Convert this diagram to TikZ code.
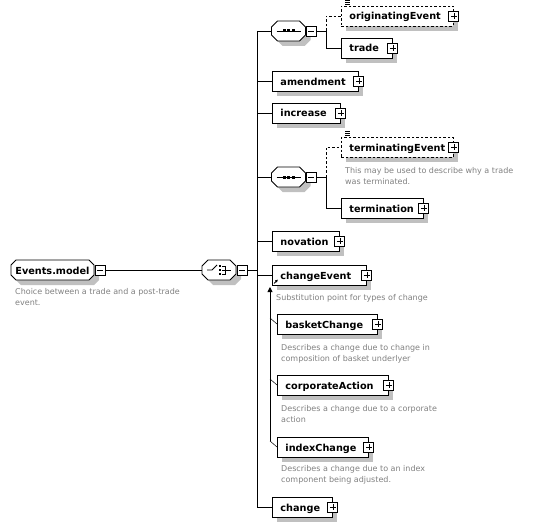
\documentclass[tikz,border=0pt]{standalone}
\usepackage{fontspec}
\setmainfont{DejaVu Sans}
\usetikzlibrary{shadows,arrows.meta}
\definecolor{shadowgray}{RGB}{192,192,192}
\definecolor{descgray}{RGB}{128,128,128}
\tikzset{
  boxshadow/.style={general shadow={fill=shadowgray, draw=none, shadow xshift=5pt, shadow yshift=-5pt}},
  elem/.style={rectangle, draw=black, line width=0.9pt, fill=white, minimum height=20pt,
    inner xsep=8pt, inner ysep=0pt, text height=10pt, text depth=2pt,
    font=\fontsize{9.7}{11}\selectfont\bfseries, anchor=west, align=left, boxshadow},
  optelem/.style={elem, dash pattern=on 2.5pt off 2pt},
  anchorbox/.style={rectangle, draw=none, minimum width=34pt, minimum height=20pt, inner sep=0pt},
  rootbox/.style={rectangle, draw=none, minimum width=83pt, minimum height=20pt, inner sep=0pt,
    text height=10pt, text depth=2pt, font=\fontsize{9.7}{11}\selectfont\bfseries},
  octfill/.style={draw=black, line width=0.9pt, fill=white},
  octshadow/.style={fill=shadowgray, draw=none},
  plusbox/.style={rectangle, draw=black, fill=white, solid, line width=0.9pt, minimum size=10pt, inner sep=0pt,
    path picture={\draw[black, line width=0.8pt] ([xshift=2pt]path picture bounding box.west) -- ([xshift=-2pt]path picture bounding box.east)
      ([yshift=-2pt]path picture bounding box.north) -- ([yshift=2pt]path picture bounding box.south);}},
  minusbox/.style={rectangle, draw=black, fill=white, solid, line width=0.9pt, minimum size=10pt, inner sep=0pt,
    path picture={\draw[black, line width=0.8pt] ([xshift=2pt]path picture bounding box.west) -- ([xshift=-2pt]path picture bounding box.east);}},
  desc/.style={anchor=base west, inner sep=0pt, text=descgray, font=\fontsize{8}{11}\selectfont},
  conn/.style={draw=black, line width=0.9pt},
  optconn/.style={conn, dash pattern=on 2.5pt off 2pt},
  tick/.style={draw=black, line width=0.5pt}
}
% octagon outline centred on the origin, half width #1, half height #2, bevel #3
\newcommand\octo[3]{(-#1+#3,-#2) -- (#1-#3,-#2) -- (#1,-#2+#3) -- (#1,#2-#3) -- (#1-#3,#2) -- (-#1+#3,#2) -- (-#1,#2-#3) -- (-#1,-#2+#3) -- cycle}
\newcommand\compositor[1]{%
  \begin{scope}[shift={(#1.center)}]
    \fill[octshadow] [shift={(5,5)}] \octo{17}{10}{6};
    \draw[octfill] \octo{17}{10}{6};
  \end{scope}}
\begin{document}
\begin{tikzpicture}[x=1pt,y=-1pt]
\useasboundingbox (0,0) rectangle (533,527);

% root
\node[rootbox] (root) at (52.5,270) {};
\begin{scope}[shift={(root.center)}]
  \fill[octshadow] [shift={(5,5)}] \octo{41.5}{10}{5};
  \draw[octfill] \octo{41.5}{10}{5};
\end{scope}
\node[rootbox] (rootT) at (root.center) {Events.model};
\node[minusbox] (rootM) at (100,270) {};
\node[desc] (rootD1) at (15,294) {Choice between a trade and a post-trade};
\node[desc] (rootD2) at (15,305) {event.};

% choice
\node[anchorbox] (choice) at (219,270) {};
\compositor{choice}
\node[minusbox] (choiceM) at (242,270) {};
\begin{scope}[shift={(choice.center)}, line width=0.8pt]
  \draw (-12,0) -- (-7,0) -- (-2,-5);
  \fill (-0.5,-5) rectangle (2,-2.8);
  \fill (-0.5,-1.1) rectangle (2,1.1);
  \fill (-0.5,2.8) rectangle (2,5);
  \draw (3,-4) -- (6.5,-4) -- (6.5,4) -- (3,4);
  \draw (3,0) -- (12,0);
\end{scope}

\draw[conn] (rootM.east) -- (choice.west);
\coordinate (B) at (257,270);
\draw[conn] (choiceM.east) -- (B);

% sequence 1
\node[anchorbox] (seqA) at (288.5,31) {};
\compositor{seqA}
\node[minusbox] (seqAM) at (311,31) {};
\begin{scope}[shift={(seqA.center)}, line width=0.8pt]
  \draw (-12,0) -- (12,0);
  \fill (-6,-1.5) rectangle (-3,1.5);
  \fill (-1.5,-1.5) rectangle (1.5,1.5);
  \fill (3,-1.5) rectangle (6,1.5);
\end{scope}

\node[optelem, text width=96pt] (orig) at (341,16) {originatingEvent};
\node[plusbox] (origP) at (orig.east) {};
\node[elem, text width=35pt] (trade) at (341,48) {trade};
\node[plusbox] (tradeP) at (trade.east) {};

\coordinate (SA) at (326,31);
\draw[conn] (seqAM.east) -- (SA);
\draw[optconn] (SA) -- (SA |- orig.west) -- (orig.west);
\draw[conn] (SA) -- (SA |- trade.west) -- (trade.west);

% simple elements
\node[elem, text width=70pt] (amend) at (272,81) {amendment};
\node[plusbox] (amendP) at (amend.east) {};
\node[elem, text width=52pt] (incr) at (272,113) {increase};
\node[plusbox] (incrP) at (incr.east) {};

% sequence 2
\node[anchorbox] (seqB) at (288.5,177) {};
\compositor{seqB}
\node[minusbox] (seqBM) at (311,177) {};
\begin{scope}[shift={(seqB.center)}, line width=0.8pt]
  \draw (-12,0) -- (12,0);
  \fill (-6,-1.5) rectangle (-3,1.5);
  \fill (-1.5,-1.5) rectangle (1.5,1.5);
  \fill (3,-1.5) rectangle (6,1.5);
\end{scope}

\node[optelem, text width=96pt] (termev) at (341,147) {terminatingEvent};
\node[plusbox] (termevP) at (termev.east) {};
\node[desc] (termevD1) at (345,173) {This may be used to describe why a trade};
\node[desc] (termevD2) at (345,184) {was terminated.};
\node[elem, text width=66pt] (termin) at (341,208) {termination};
\node[plusbox] (terminP) at (termin.east) {};

\coordinate (SB) at (326,177);
\draw[conn] (seqBM.east) -- (SB);
\draw[optconn] (SB) -- (SB |- termev.west) -- (termev.west);
\draw[conn] (SB) -- (SB |- termin.west) -- (termin.west);

% optional-marker icons
\foreach \n in {orig, termev} {
  \draw[line width=0.6pt] ([xshift=4pt,yshift=5pt]\n.north west) -- ++(5,0)
    ([xshift=4pt,yshift=3pt]\n.north west) -- ++(5,0)
    ([xshift=4pt,yshift=1pt]\n.north west) -- ++(5,0);
}

\node[elem, text width=51pt] (nov) at (272,241) {novation};
\node[plusbox] (novP) at (nov.east) {};

% substitution group
\node[elem, text width=78pt] (chev) at (272,275) {changeEvent};
\node[plusbox] (chevP) at (chev.east) {};
\draw[line width=0.8pt, -{Latex[length=3pt,width=3pt]}] ([xshift=2pt,yshift=2pt]chev.south west) -- ++(4,-4);
\node[desc] (chevD) at (276,300) {Substitution point for types of change};

\node[elem, text width=84pt] (basket) at (277,324) {basketChange};
\node[plusbox] (basketP) at (basket.east) {};
\node[desc] (basketD1) at (281,350) {Describes a change due to change in};
\node[desc] (basketD2) at (281,361) {composition of basket underlyer};

\node[elem, text width=95pt] (corp) at (277,385) {corporateAction};
\node[plusbox] (corpP) at (corp.east) {};
\node[desc] (corpD1) at (281,411) {Describes a change due to a corporate};
\node[desc] (corpD2) at (281,422) {action};

\node[elem, text width=75pt] (idx) at (277,447) {indexChange};
\node[plusbox] (idxP) at (idx.east) {};
\node[desc] (idxD1) at (281,471) {Describes a change due to an index};
\node[desc] (idxD2) at (281,482) {component being adjusted.};

\coordinate (G) at (270,287);
\coordinate (GE) at (270,441);
\draw[conn, {Triangle[length=5pt,width=5pt]}-] (G) -- (GE);
\draw[tick] (270,318) -- (basket.west);
\draw[tick] (270,379) -- (corp.west);
\draw[tick] (GE) -- (idx.west);

\node[elem, text width=44pt] (chg) at (272,507) {change};
\node[plusbox] (chgP) at (chg.east) {};

% main bus
\draw[conn] (B |- seqA.west) -- (B |- chg.west);
\draw[conn] (B |- seqA.west) -- (seqA.west);
\draw[conn] (B |- amend.west) -- (amend.west);
\draw[conn] (B |- incr.west) -- (incr.west);
\draw[conn] (B |- seqB.west) -- (seqB.west);
\draw[conn] (B |- nov.west) -- (nov.west);
\draw[conn] (B |- chev.west) -- (chev.west);
\draw[conn] (B |- chg.west) -- (chg.west);
\end{tikzpicture}
\end{document}
